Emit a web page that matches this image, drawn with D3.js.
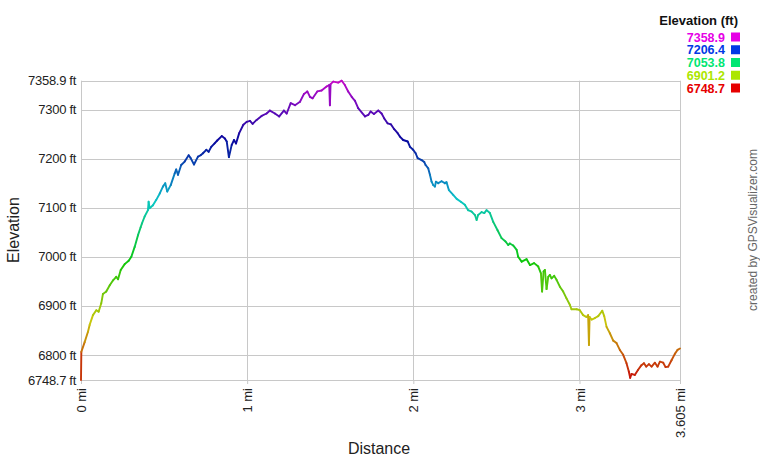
<!DOCTYPE html>
<html>
<head>
<meta charset="utf-8">
<script src="https://cdn.jsdelivr.net/npm/d3@7"></script>
<style>
  body { margin: 0; background: #fff; }
  text { font-family: "Liberation Sans", Arial, sans-serif; }
</style>
</head>
<body>
<script>
var width = 760, height = 460;
var margin = { top: 80.7, right: 80, bottom: 80, left: 81 };

// distance along track (mi) and elevation (ft)
var distances = [0, 0.002, 0.022, 0.042, 0.052, 0.072, 0.092, 0.106, 0.122, 0.132, 0.152, 0.173, 0.193, 0.212, 0.223, 0.239, 0.263, 0.287, 0.303, 0.323, 0.343, 0.359, 0.367, 0.383, 0.403, 0.407, 0.413, 0.433, 0.453, 0.474, 0.493, 0.507, 0.519, 0.540, 0.564, 0.573, 0.584, 0.603, 0.624, 0.648, 0.660, 0.680, 0.704, 0.720, 0.734, 0.754, 0.768, 0.784, 0.804, 0.820, 0.847, 0.866, 0.877, 0.890, 0.907, 0.921, 0.933, 0.952, 0.977, 0.997, 1.017, 1.033, 1.057, 1.087, 1.117, 1.137, 1.167, 1.193, 1.221, 1.238, 1.262, 1.288, 1.318, 1.342, 1.362, 1.378, 1.394, 1.422, 1.448, 1.478, 1.494, 1.498, 1.502, 1.518, 1.548, 1.569, 1.588, 1.608, 1.629, 1.649, 1.668, 1.709, 1.729, 1.743, 1.763, 1.789, 1.809, 1.825, 1.845, 1.865, 1.885, 1.906, 1.919, 1.939, 1.966, 1.980, 1.999, 2.014, 2.026, 2.050, 2.066, 2.074, 2.090, 2.100, 2.110, 2.120, 2.130, 2.136, 2.150, 2.170, 2.190, 2.200, 2.214, 2.240, 2.261, 2.286, 2.310, 2.330, 2.351, 2.371, 2.381, 2.390, 2.411, 2.427, 2.441, 2.461, 2.481, 2.507, 2.531, 2.555, 2.571, 2.581, 2.601, 2.622, 2.631, 2.652, 2.682, 2.702, 2.727, 2.752, 2.768, 2.775, 2.784, 2.792, 2.802, 2.812, 2.822, 2.832, 2.848, 2.862, 2.882, 2.902, 2.922, 2.942, 2.952, 2.983, 3.002, 3.022, 3.043, 3.052, 3.057, 3.061, 3.073, 3.093, 3.113, 3.137, 3.149, 3.163, 3.183, 3.203, 3.223, 3.243, 3.263, 3.283, 3.297, 3.305, 3.313, 3.333, 3.352, 3.373, 3.388, 3.402, 3.418, 3.434, 3.454, 3.470, 3.484, 3.504, 3.518, 3.534, 3.554, 3.574, 3.590, 3.605];
var elevations = [6748.7, 6806, 6826, 6847, 6861, 6881, 6891, 6888, 6905, 6924, 6929, 6942, 6952, 6959, 6954, 6973, 6985, 6992, 7000, 7020, 7044, 7060, 7068, 7082, 7095, 7112, 7099, 7105, 7116, 7129, 7143, 7150, 7133, 7146, 7170, 7178, 7167, 7187, 7194, 7207, 7201, 7188, 7204, 7207, 7211, 7218, 7214, 7224, 7231, 7237, 7246, 7241, 7235, 7203, 7228, 7238, 7231, 7252, 7269, 7275, 7277, 7271, 7279, 7287, 7292, 7298, 7292, 7286, 7298, 7292, 7313, 7309, 7316, 7332, 7337, 7326, 7323, 7337, 7339, 7347, 7350, 7309, 7352, 7357, 7355, 7358.9, 7350, 7337, 7326, 7318, 7303, 7286, 7289, 7296, 7291, 7298, 7292, 7282, 7272, 7270, 7260, 7252, 7245, 7238, 7235, 7224, 7218, 7211, 7201, 7197, 7193, 7187, 7180, 7167, 7153, 7146, 7143, 7153, 7150, 7154, 7150, 7152, 7136, 7126, 7118, 7112, 7106, 7095, 7092, 7085, 7075, 7085, 7091, 7089, 7095, 7089, 7071, 7054, 7038, 7031, 7024, 7027, 7023, 7014, 7000, 6990, 6995, 6983, 6987, 6980, 6966, 6929, 6970, 6973, 6934, 6959, 6963, 6956, 6961, 6953, 6939, 6929, 6915, 6902, 6893, 6893, 6891, 6881, 6877, 6881, 6820, 6877, 6872, 6875, 6879, 6890, 6879, 6857, 6844, 6829, 6824, 6810, 6800, 6783, 6766, 6753, 6761, 6759, 6769, 6779, 6783, 6776, 6781, 6776, 6784, 6776, 6786, 6784, 6775, 6776, 6789, 6802, 6810, 6813];

var yTicks = [6748.7, 6800, 6900, 7000, 7100, 7200, 7300, 7358.9];
var xTicks = [0, 1, 2, 3, 3.605];
var legendValues = [7358.9, 7206.4, 7053.8, 6901.2, 6748.7];

var minEle = 6748.7, maxEle = 7358.9;

var svg = d3.select("body").append("svg")
    .attr("width", width)
    .attr("height", height);

svg.append("rect").attr("width", width).attr("height", height).attr("fill", "#fff");

var x = d3.scaleLinear().domain([0, 3.605]).range([margin.left, width - margin.right]);
var y = d3.scaleLinear().domain([minEle, maxEle]).range([height - margin.bottom, margin.top]);

// colour by elevation: red (low) round the hue wheel to magenta (high)
function eleColor(e, l) {
    var h = 300 * (e - minEle) / (maxEle - minEle);
    return d3.hsl(h, 1, l).formatHex();
}

// the track line is a bit darker in the blues
function lineColor(e) {
    var h = 300 * (e - minEle) / (maxEle - minEle);
    var l = 0.41 - 0.08 * Math.exp(-Math.pow((h - 240) / 30, 2));
    return d3.hsl(h, 0.9, l).formatHex();
}

// grid
svg.append("g")
    .selectAll("line")
    .data(yTicks)
    .enter().append("line")
    .attr("x1", x(0)).attr("x2", x(3.605))
    .attr("y1", function(d) { return Math.round(y(d)) + 0.5; })
    .attr("y2", function(d) { return Math.round(y(d)) + 0.5; })
    .style("stroke", "#c8c8c8");

svg.append("g")
    .selectAll("line")
    .data(xTicks)
    .enter().append("line")
    .attr("y1", y(maxEle)).attr("y2", y(minEle))
    .attr("x1", function(d) { return Math.round(x(d)) + 0.5; })
    .attr("x2", function(d) { return Math.round(x(d)) + 0.5; })
    .style("stroke", "#c8c8c8");

// axes
var yAxis = svg.append("g")
    .attr("transform", "translate(" + margin.left + ",0)")
    .call(d3.axisLeft(y).tickValues(yTicks).tickSize(0).tickPadding(5)
        .tickFormat(function(d) { return d + " ft"; }));
yAxis.select(".domain").remove();
yAxis.selectAll("text")
    .style("font-size", "13px").style("fill", "#222")
    .style("letter-spacing", "-0.3px");

var xAxis = svg.append("g")
    .attr("transform", "translate(0," + (height - margin.bottom) + ")")
    .call(d3.axisBottom(x).tickValues(xTicks).tickSize(4)
        .tickFormat(function(d) { return d + " mi"; }));
xAxis.select(".domain").remove();
xAxis.selectAll("line").style("stroke", "#c8c8c8");
xAxis.selectAll("text")
    .attr("transform", "rotate(-90)")
    .attr("x", -8).attr("y", 0).attr("dy", "0.35em")
    .style("text-anchor", "end")
    .style("font-size", "13px").style("fill", "#222");

// profile line, one segment per step
var pts = distances.map(function(d, i) { return { d: d, e: elevations[i] }; });
var segs = pts.slice(1).map(function(p, i) { return [pts[i], p]; });

svg.append("g")
    .selectAll("line")
    .data(segs)
    .enter().append("line")
    .attr("x1", function(s) { return x(s[0].d); })
    .attr("y1", function(s) { return y(s[0].e); })
    .attr("x2", function(s) { return x(s[1].d); })
    .attr("y2", function(s) { return y(s[1].e); })
    .style("stroke", function(s) { return lineColor((s[0].e + s[1].e) / 2); })
    .style("stroke-width", "1.9px")
    .style("stroke-linecap", "round");

// axis titles
svg.append("text")
    .attr("transform", "translate(19,230) rotate(-90)")
    .attr("text-anchor", "middle")
    .style("font-size", "16px").style("fill", "#222")
    .text("Elevation");

svg.append("text")
    .attr("x", 379).attr("y", 454)
    .attr("text-anchor", "middle")
    .style("font-size", "16px").style("fill", "#222")
    .text("Distance");

svg.append("text")
    .attr("transform", "translate(757,230) rotate(-90)")
    .attr("text-anchor", "middle")
    .style("font-size", "12px").style("fill", "#666")
    .text("created by GPSVisualizer.com");

// legend
svg.append("text")
    .attr("x", 738).attr("y", 25)
    .attr("text-anchor", "end")
    .style("font-size", "13px").style("font-weight", "bold").style("fill", "#111")
    .text("Elevation (ft)");

var legend = svg.append("g")
    .selectAll("g")
    .data(legendValues)
    .enter().append("g")
    .attr("transform", function(d, i) { return "translate(0," + (37 + i * 12.75) + ")"; });

legend.append("text")
    .attr("x", 725).attr("dy", "0.36em")
    .attr("text-anchor", "end")
    .style("font-size", "12.5px").style("font-weight", "bold")
    .style("fill", function(d) { return eleColor(d, 0.45); })
    .text(function(d) { return d.toFixed(1); });

legend.append("rect")
    .attr("x", 731).attr("y", -4.5)
    .attr("width", 9).attr("height", 9)
    .style("fill", function(d) { return eleColor(d, 0.45); });
</script>
</body>
</html>
